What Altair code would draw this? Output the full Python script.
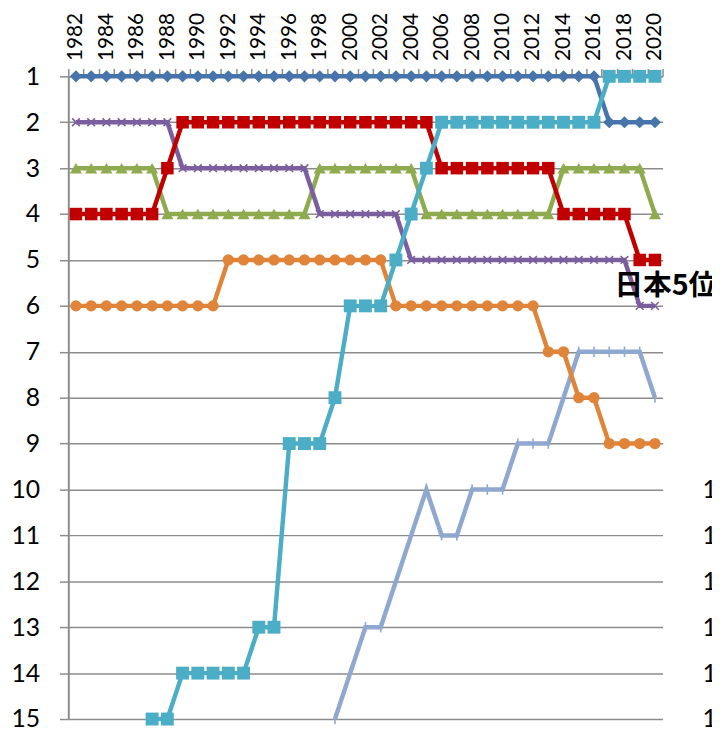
import altair as alt
import pandas as pd

years = [1982, 1983, 1984, 1985, 1986, 1987, 1988, 1989, 1990, 1991,
         1992, 1993, 1994, 1995, 1996, 1997, 1998, 1999, 2000, 2001,
         2002, 2003, 2004, 2005, 2006, 2007, 2008, 2009, 2010, 2011,
         2012, 2013, 2014, 2015, 2016, 2017, 2018, 2019, 2020]

N = None
blue = [1] * 35 + [2, 2, 2, 2]
cyan = [N, N, N, N, N, 15, 15, 14, 14, 14, 14, 14, 13, 13, 9, 9, 9, 8, 6, 6,
        6, 5, 4, 3, 2, 2, 2, 2, 2, 2, 2, 2, 2, 2, 2, 1, 1, 1, 1]
red = [4, 4, 4, 4, 4, 4, 3, 2, 2, 2, 2, 2, 2, 2, 2, 2, 2, 2, 2, 2,
       2, 2, 2, 2, 3, 3, 3, 3, 3, 3, 3, 3, 4, 4, 4, 4, 4, 5, 5]
purple = [2, 2, 2, 2, 2, 2, 2, 3, 3, 3, 3, 3, 3, 3, 3, 3, 4, 4, 4, 4,
          4, 4, 5, 5, 5, 5, 5, 5, 5, 5, 5, 5, 5, 5, 5, 5, 5, 6, 6]
green = [3, 3, 3, 3, 3, 3, 4, 4, 4, 4, 4, 4, 4, 4, 4, 4, 3, 3, 3, 3,
         3, 3, 3, 4, 4, 4, 4, 4, 4, 4, 4, 4, 3, 3, 3, 3, 3, 3, 4]
orange = [6, 6, 6, 6, 6, 6, 6, 6, 6, 6, 5, 5, 5, 5, 5, 5, 5, 5, 5, 5,
          5, 6, 6, 6, 6, 6, 6, 6, 6, 6, 6, 7, 7, 8, 8, 9, 9, 9, 9]
grayblue = [N] * 17 + [15, 14, 13, 13, 12, 11, 10, 11, 11, 10, 10, 10,
                       9, 9, 9, 8, 7, 7, 7, 7, 7, 8]

ranks = list(range(1, 16))

ann_year = [2020]
ann_rank = [5]
ann_text = ["日本5位"]

# series: name, values, color, shape, size, filled
series = [
    ("grayblue", grayblue, "#8EA8CF", "M0,-1L0,1", 110, False),
    ("blue", blue, "#4674AB", "diamond", 150, True),
    ("green", green, "#8FAB4F", "triangle-up", 150, True),
    ("purple", purple, "#7B5E9E", "M-1,-1L1,1M-1,1L1,-1", 60, False),
    ("orange", orange, "#DF8438", "circle", 130, True),
    ("red", red, "#C00000", "square", 160, True),
    ("cyan", cyan, "#4BADC6", "square", 170, True),
]

rows = []
for name, vals, *_ in series:
    for yr, v in zip(years, vals):
        if v is not None:
            rows.append({"year": yr, "rank": v, "series": name})
df = pd.DataFrame(rows)

GRAY = "#8C8C8C"
FONT = "Lato"
PLOT_W = 601
BAND = PLOT_W / len(years)

xs = alt.Scale(domain=[years[0] - 0.5, years[-1] + 0.5], nice=False, zero=False)
ys = alt.Scale(domain=[1, 15], reverse=True, nice=False, zero=False)

# ticks sit between the years (band edges); labels are shifted to band centres
edge_values = [y - 0.5 for y in years] + [years[-1] + 0.5]

x_axis = alt.Axis(
    orient="top", values=edge_values,
    labelExpr="(datum.value + 0.5) % 2 == 0 ? format(datum.value + 0.5, 'd') : ''",
    labelAngle=270, labelAlign="left", labelBaseline="middle",
    labelFont=FONT, labelFontSize=21, labelColor="black",
    labelPadding=8, labelOffset=BAND / 2, labelOverlap=False,
    labelBound=False, labelFlush=False, labelLimit=300,
    tickSize=8, tickColor=GRAY, tickWidth=1.5,
    domainColor=GRAY, domainWidth=1.5, grid=False, title=None,
)
y_axis = alt.Axis(
    orient="left", values=ranks, format="d",
    labelFont=FONT, labelFontSize=25, labelColor="black", labelPadding=20,
    tickSize=9, tickColor=GRAY, tickWidth=1.5,
    domainColor=GRAY, domainWidth=2,
    grid=True, gridColor=GRAY, gridWidth=1.5, title=None,
)
y_axis_right = alt.Axis(
    orient="right", values=ranks, format="d",
    labelFont=FONT, labelFontSize=25, labelColor="black",
    labelAlign="right", labelPadding=69,
    ticks=False, tickSize=0, domain=False, grid=False, title=None,
)

X = alt.X("year:Q", scale=xs, axis=x_axis)
Y = alt.Y("rank:Q", scale=ys, axis=y_axis)

base = alt.Chart(df)
layers = []
for name, vals, color, shape, size, filled in series:
    sub = base.transform_filter(alt.datum.series == name)
    line = sub.mark_line(color=color, strokeWidth=4.5).encode(x=X, y=Y)
    if filled:
        pt = sub.mark_point(shape=shape, size=size, filled=True, color=color, opacity=1)
    else:
        pt = sub.mark_point(shape=shape, size=size, filled=False, color=color,
                            strokeWidth=1.6, opacity=1)
    pt = pt.encode(x=X, y=Y)
    layers += [line, pt]

lines = alt.layer(*layers)

ann_df = pd.DataFrame({"year": ann_year, "rank": ann_rank, "text": ann_text})
ann = alt.Chart(ann_df).mark_text(
    font="Noto Sans CJK JP", fontWeight="bold", fontSize=29, color="black",
    align="left", baseline="middle", dx=-41, dy=26,
).encode(
    x=X,
    y=alt.Y("rank:Q", scale=ys, axis=y_axis_right),
    text="text:N",
)

chart = alt.layer(lines, ann).resolve_axis(
    y="independent"
).properties(
    width=PLOT_W, height=650,
    autosize=alt.AutoSizeParams(type="none"),
    padding={"left": 61, "top": 65, "right": 50, "bottom": 9},
    background="white",
).configure_view(stroke=None).configure_axisTop(
    labelFontSize=21, labelFont=FONT, labelColor="black", labelLimit=300
).configure_axisLeft(
    labelFontSize=25, labelFont=FONT, labelColor="black"
).configure_axisRight(
    labelFontSize=25, labelFont=FONT, labelColor="black"
)

chart.save("out.html", embed_options={"renderer": "svg", "actions": False})
